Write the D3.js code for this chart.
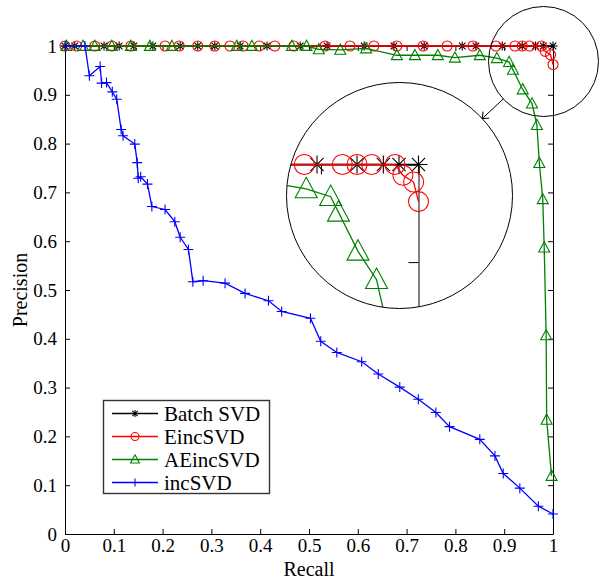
<!DOCTYPE html>
<html><head><meta charset="utf-8">
<script src="https://cdn.jsdelivr.net/npm/d3@7/dist/d3.min.js"></script>
<style>body{margin:0;background:#fff}svg{display:block}</style>
</head><body>
<svg id="c" width="602" height="579"></svg>
<script>
// ---- data ----
const seriesNames = ["Batch SVD","EincSVD","AEincSVD","incSVD"];
const seriesColors = ["#000000","#ff0000","#008000","#0000ff"];
const seriesMarkers = ["star","circle","triangle","plus"];

const batchRecall = [0,0.020,0.080,0.111,0.141,0.180,0.236,0.272,0.307,0.359,0.414,0.482,0.537,0.613,0.674,0.736,0.814,0.842,0.896,0.937,0.964,0.980,1.0];
const batchPrec   = [1,1,1,1,1,1,1,1,1,1,1,1,1,1,1,1,1,1,1,1,1,1,1];

const eincRecall = [0,0.024,0.061,0.096,0.135,0.205,0.234,0.272,0.307,0.338,0.365,0.398,0.430,0.469,0.533,0.584,0.633,0.680,0.734,0.783,0.836,0.883,0.922,0.937,0.952,0.976,0.984,0.995,1.0];
const eincPrec   = [1,1,1,1,1,1,1,1,1,1,1,1,1,1,1,1,1,1,1,1,1,1,1,1,1,1,0.989,0.982,0.962];

const aeRecall = [0.003,0.037,0.061,0.096,0.135,0.174,0.219,0.352,0.383,0.465,0.495,0.520,0.564,0.617,0.680,0.717,0.764,0.799,0.850,0.885,0.910,0.918,0.938,0.957,0.967,0.972,0.979,0.982,0.986,0.987,0.997];
const aePrec   = [1,1,1,1,1,1,1,1,1,1,1,0.993,0.992,0.995,0.981,0.981,0.981,0.976,0.981,0.975,0.967,0.951,0.911,0.882,0.838,0.760,0.686,0.587,0.407,0.234,0.119];

const incRecall = [0.002,0.041,0.050,0.072,0.075,0.085,0.097,0.106,0.115,0.119,0.143,0.148,0.150,0.155,0.169,0.178,0.205,0.225,0.236,0.253,0.262,0.283,0.328,0.369,0.417,0.444,0.503,0.524,0.557,0.608,0.642,0.686,0.724,0.760,0.788,0.850,0.881,0.898,0.932,0.970,1.0];
const incPrec   = [1,1,0.939,0.958,0.924,0.925,0.906,0.891,0.829,0.816,0.799,0.761,0.729,0.732,0.717,0.671,0.665,0.640,0.608,0.583,0.517,0.519,0.514,0.493,0.478,0.456,0.442,0.395,0.372,0.353,0.328,0.301,0.276,0.249,0.220,0.194,0.160,0.124,0.094,0.057,0.041];

const tickValues = [0,0.1,0.2,0.3,0.4,0.5,0.6,0.7,0.8,0.9,1];
const tickLabels = ["0","0.1","0.2","0.3","0.4","0.5","0.6","0.7","0.8","0.9","1"];
const xLabel = "Recall", yLabel = "Precision";

const seriesData = [
  d3.zip(batchRecall, batchPrec),
  d3.zip(eincRecall, eincPrec),
  d3.zip(aeRecall, aePrec),
  d3.zip(incRecall, incPrec)
];

// ---- layout ----
const FONT = "'Liberation Serif','Times New Roman',serif";
const svg = d3.select("#c");
const L=65, R=553, T=46, B=534;
const x = d3.scaleLinear().domain([0,1]).range([L,R]);
const y = d3.scaleLinear().domain([0,1]).range([B,T]);
const fmt = d => tickLabels[tickValues.indexOf(d)];

function markerPath(type, s){
  const p = d3.path();
  if(type==="star"){
    const a=4.5*s, b=3.3*s;
    p.moveTo(-a,0);p.lineTo(a,0);p.moveTo(0,-a);p.lineTo(0,a);
    p.moveTo(-b,-b);p.lineTo(b,b);p.moveTo(-b,b);p.lineTo(b,-b);
  } else if(type==="circle"){
    const r=5*s; p.moveTo(r,0); p.arc(0,0,r,0,2*Math.PI);
  } else if(type==="triangle"){
    p.moveTo(0,-5.8*s);p.lineTo(5.5*s,4.4*s);p.lineTo(-5.5*s,4.4*s);p.closePath();
  } else {
    const a=5*s; p.moveTo(-a,0);p.lineTo(a,0);p.moveTo(0,-a);p.lineTo(0,a);
  }
  return p.toString();
}

function drawAxes(g, xs, ys, s, labels){
  const ax = (gen, tr) => g.append("g").attr("transform", tr).call(gen)
     .call(q=>q.selectAll("path,line").attr("stroke","#000").attr("stroke-width",1))
     .call(q=>q.selectAll("text").attr("fill","#000").style("font-family",FONT).style("font-size","19px"));
  const [x0,x1]=xs.range(), [y0,y1]=ys.range();
  ax(d3.axisBottom(xs).tickValues(tickValues).tickSizeInner(-5*s).tickSizeOuter(0).tickPadding(5).tickFormat(labels?fmt:""), `translate(0,${y0})`);
  ax(d3.axisLeft(ys).tickValues(tickValues).tickSizeInner(-5*s).tickSizeOuter(0).tickPadding(8).tickFormat(labels?fmt:""), `translate(${x0},0)`);
  ax(d3.axisTop(xs).tickValues(tickValues).tickSizeInner(-5*s).tickSizeOuter(0).tickFormat(""), `translate(0,${y1})`);
  ax(d3.axisRight(ys).tickValues(tickValues).tickSizeInner(-5*s).tickSizeOuter(0).tickFormat(""), `translate(${x1},0)`);
}

function drawSeries(g, xs, ys, s){
  seriesData.forEach((data,i)=>{
    const line = d3.line().x(d=>xs(d[0])).y(d=>ys(d[1]));
    g.append("path").datum(data).attr("d",line).attr("fill","none")
      .attr("stroke",seriesColors[i]).attr("stroke-width",1.3);
    g.selectAll(null).data(data).join("path")
      .attr("transform",d=>`translate(${xs(d[0])},${ys(d[1])})`)
      .attr("d",markerPath(seriesMarkers[i],s)).attr("fill","none")
      .attr("stroke",seriesColors[i]).attr("stroke-width",1.1);
  });
}

// main plot
drawAxes(svg.append("g"), x, y, 1, true);
drawSeries(svg.append("g"), x, y, 1);

// axis titles
svg.append("text").attr("x",(L+R)/2).attr("y",576).attr("text-anchor","middle")
  .style("font-family",FONT).style("font-size","20px").text(xLabel);
svg.append("text").attr("transform",`translate(27,${(T+B)/2}) rotate(-90)`).attr("text-anchor","middle")
  .style("font-family",FONT).style("font-size","20px").text(yLabel);

// legend
const lg = svg.append("g");
lg.append("rect").attr("x",103.5).attr("y",400.5).attr("width",166).attr("height",93)
  .attr("fill","#fff").attr("stroke","#333").attr("stroke-width",1.4);
seriesNames.forEach((n,i)=>{
  const yy = 413.5 + i*23;
  lg.append("line").attr("x1",112).attr("x2",158).attr("y1",yy).attr("y2",yy)
    .attr("stroke",seriesColors[i]).attr("stroke-width",1.3);
  lg.append("path").attr("transform",`translate(135,${yy})`).attr("d",markerPath(seriesMarkers[i],0.8))
    .attr("fill","none").attr("stroke",seriesColors[i]).attr("stroke-width",1.1);
  lg.append("text").attr("x",164).attr("y",yy+7).style("font-family",FONT).style("font-size","21px").text(n);
});

// zoom callout
const Cs = {x:543.5, y:61.5, r:55};
const Cb = {x:399.5, y:195.5, r:113};
const M = 2;
const xi = d3.scaleLinear().domain([0,1]).range([Cb.x+M*(L-Cs.x), Cb.x+M*(R-Cs.x)]);
const yi = d3.scaleLinear().domain([0,1]).range([Cb.y+M*(B-Cs.y), Cb.y+M*(T-Cs.y)]);
svg.append("defs").append("clipPath").attr("id","inclip").append("circle")
  .attr("cx",Cb.x).attr("cy",Cb.y).attr("r",Cb.r);
const ig = svg.append("g").attr("clip-path","url(#inclip)");
ig.append("circle").attr("cx",Cb.x).attr("cy",Cb.y).attr("r",Cb.r).attr("fill","#fff");
drawAxes(ig.append("g"), xi, yi, M, false);
drawSeries(ig.append("g"), xi, yi, M);
svg.append("circle").attr("cx",Cb.x).attr("cy",Cb.y).attr("r",Cb.r).attr("fill","none").attr("stroke","#000").attr("stroke-width",1);
svg.append("circle").attr("cx",Cs.x).attr("cy",Cs.y).attr("r",Cs.r).attr("fill","none").attr("stroke","#000").attr("stroke-width",1);
// arrow
const ang = Math.atan2(Cb.y-Cs.y, Cb.x-Cs.x);
const p0 = [Cs.x+Cs.r*Math.cos(ang), Cs.y+Cs.r*Math.sin(ang)];
const tip = [Cb.x+Cb.r*Math.cos(ang+Math.PI), Cb.y+Cb.r*Math.sin(ang+Math.PI)];
const back = Math.atan2(p0[1]-tip[1], p0[0]-tip[0]);
const ah = d3.path();
ah.moveTo(p0[0],p0[1]); ah.lineTo(tip[0],tip[1]);
ah.moveTo(tip[0]+7*Math.cos(back+0.7), tip[1]+7*Math.sin(back+0.7)); ah.lineTo(tip[0],tip[1]);
ah.lineTo(tip[0]+7*Math.cos(back-0.7), tip[1]+7*Math.sin(back-0.7));
svg.append("path").attr("d",ah.toString()).attr("fill","none").attr("stroke","#000").attr("stroke-width",1);
</script>
</body></html>
